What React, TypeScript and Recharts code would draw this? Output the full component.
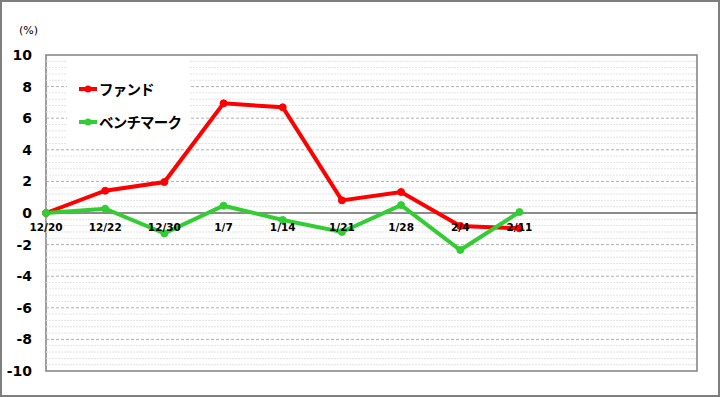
import {
  LineChart,
  Line,
  XAxis,
  YAxis,
  Legend,
  ReferenceLine,
  ReferenceArea,
} from "recharts";

const categories = ["12/20", "12/22", "12/30", "1/7", "1/14", "1/21", "1/28", "2/4", "2/11"];
const fundValues = [0, 1.41, 1.96, 6.94, 6.69, 0.8, 1.33, -0.82, -0.97];
const benchValues = [0, 0.27, -1.29, 0.46, -0.44, -1.2, 0.5, -2.34, 0.06];
const yTicks = [-10, -8, -6, -4, -2, 0, 2, 4, 6, 8, 10];
const xSlots = 11; // axis runs past the last date (empty slots on the right)

const data = categories.map((label, idx) => ({
  idx,
  label,
  fund: fundValues[idx],
  bench: benchValues[idx],
}));

// minor grid every 0.4 between the major ticks
const minorLines: number[] = [];
for (let i = -25; i <= 25; i++) {
  if (i % 5 !== 0) minorLines.push(i * 0.4);
}
const majorLines = yTicks.filter((v) => v !== 0 && Math.abs(v) !== 10);

const W = 720;
const H = 397;
const TOP = 55;
const BOTTOM = 26;
const ZERO_Y = TOP + (H - TOP - BOTTOM) / 2;

const font = "'DejaVu Sans', Verdana, sans-serif";

const renderDateTick = (props: any) => {
  const { x, payload } = props;
  return (
    <text
      x={x}
      y={ZERO_Y + 18}
      textAnchor="middle"
      fontFamily={font}
      fontSize={10.5}
      fontWeight="bold"
      fill="#000"
    >
      {categories[payload.value]}
    </text>
  );
};

function LegendBox({ payload }: any) {
  return (
    <div style={{ width: 122, height: 88, background: "#fff", paddingTop: 15, boxSizing: "border-box" }}>
      {(payload || []).map((entry: any) => (
        <div key={entry.value} style={{ display: "flex", alignItems: "center", height: 33 }}>
          <svg width={32} height={12} style={{ flexShrink: 0 }}>
            <line x1={12} y1={6} x2={30} y2={6} stroke={entry.color} strokeWidth={4} />
            <circle cx={21} cy={6} r={3.5} fill={entry.color} />
          </svg>
          <span
            style={{
              fontFamily: "'Noto Sans CJK JP', sans-serif",
              fontWeight: "bold",
              fontSize: 14.5,
              letterSpacing: -0.8,
              color: "#000",
              whiteSpace: "nowrap",
            }}
          >
            {entry.value}
          </span>
        </div>
      ))}
    </div>
  );
}

export default function App() {
  return (
    <div style={{ position: "fixed", left: 0, top: 0, width: W, height: H, background: "#fff" }}>
      <LineChart
        width={W}
        height={H}
        data={data}
        margin={{ top: TOP, right: 23, bottom: BOTTOM - 10, left: 0 }}
      >
        {minorLines.map((v) => (
          <ReferenceLine key={"m" + v} y={v} stroke="#e3e3e3" strokeDasharray="2 1" />
        ))}
        {majorLines.map((v) => (
          <ReferenceLine key={"M" + v} y={v} stroke="#b0b0b0" strokeDasharray="3 2" />
        ))}
        <ReferenceArea x1={0} x2={xSlots} y1={-10} y2={10} fill="none" stroke="#808080" strokeWidth={1.5} />
        <ReferenceLine y={0} stroke="#666" strokeWidth={1.5} />
        <XAxis
          type="number"
          dataKey="idx"
          domain={[0, xSlots]}
          ticks={categories.map((_, i) => i)}
          interval={0}
          height={10}
          axisLine={false}
          tickLine={false}
          tick={renderDateTick}
        />
        <YAxis
          domain={[-10, 10]}
          ticks={yTicks}
          width={46}
          axisLine={false}
          tickLine={false}
          tickSize={0}
          tickMargin={14}
          tick={{ fontFamily: font, fontSize: 14, fontWeight: "bold", fill: "#000" }}
        />
        <Legend
          layout="vertical"
          align="center"
          verticalAlign="middle"
          wrapperStyle={{ left: 67, top: 57, width: 122, height: 88 }}
          content={<LegendBox />}
        />
        <Line
          name="ファンド"
          dataKey="fund"
          stroke="#ff0000"
          strokeWidth={4}
          dot={{ r: 3.5, fill: "#ff0000", stroke: "#ff0000", strokeWidth: 1 }}
          isAnimationActive={false}
        />
        <Line
          name="ベンチマーク"
          dataKey="bench"
          stroke="#33cc33"
          strokeWidth={4}
          dot={{ r: 3.5, fill: "#33cc33", stroke: "#33cc33", strokeWidth: 1 }}
          isAnimationActive={false}
        />
      </LineChart>
      <div
        style={{
          position: "absolute",
          left: 19,
          top: 24,
          fontFamily: font,
          fontSize: 11,
          color: "#000",
        }}
      >
        (%)
      </div>
      <div
        style={{
          position: "absolute",
          left: 0,
          top: 0,
          width: W,
          height: H,
          border: "2px solid #7f7f7f",
          boxSizing: "border-box",
          pointerEvents: "none",
        }}
      />
    </div>
  );
}
